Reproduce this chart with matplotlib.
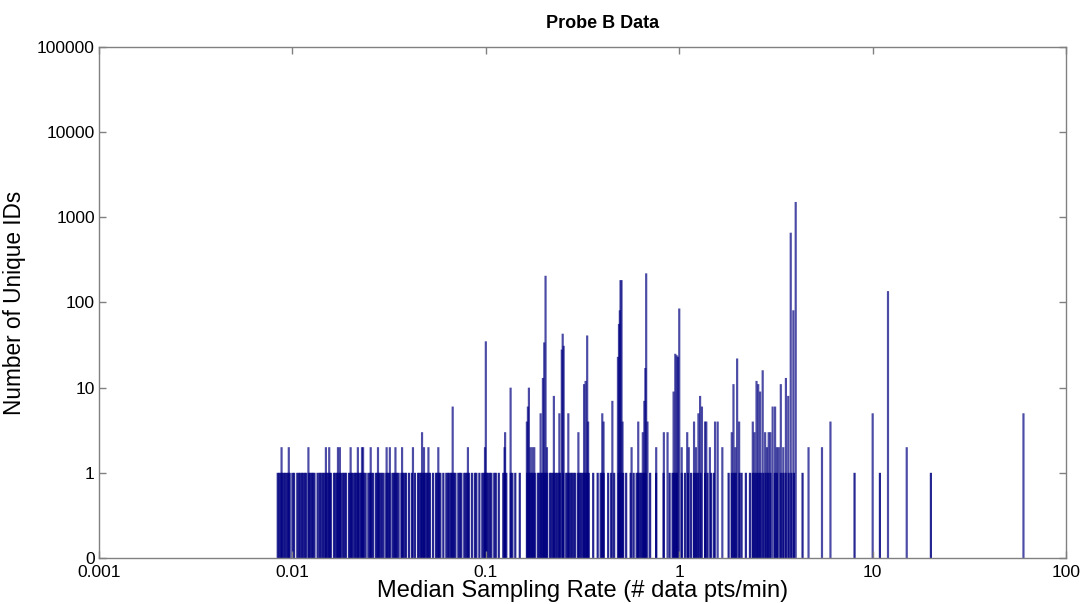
import matplotlib
matplotlib.use('Agg')
import matplotlib.pyplot as plt
import numpy as np

# rates (data pts/min) that hold a single unique ID
single_rates = [
    0.00840, 0.00855, 0.00870, 0.00886, 0.00902, 0.00918, 0.00934, 0.00951, 0.00968,
    0.0100, 0.0102, 0.0106, 0.0108, 0.0110, 0.0112, 0.0114, 0.0116, 0.0118,
    0.0122, 0.0124, 0.0126, 0.0128, 0.0130, 0.0135, 0.0138, 0.0140, 0.0143,
    0.0145, 0.0148, 0.0150, 0.0153, 0.0156, 0.0158, 0.0164, 0.0167, 0.0170,
    0.0173, 0.0176, 0.0179, 0.0183, 0.0186, 0.0189, 0.0196, 0.0200, 0.0203,
    0.0207, 0.0211, 0.0214, 0.0218, 0.0222, 0.0226, 0.0230, 0.0234, 0.0239,
    0.0247, 0.0252, 0.0256, 0.0261, 0.0270, 0.0275, 0.0280, 0.0285, 0.0290,
    0.0296, 0.0306, 0.0312, 0.0318, 0.0329, 0.0335, 0.0341, 0.0347, 0.0354,
    0.0366, 0.0373, 0.0380, 0.0387, 0.0401, 0.0415, 0.0430, 0.0446, 0.0454,
    0.0462, 0.0470, 0.0479, 0.0487, 0.0496, 0.0505, 0.0514, 0.0533, 0.0552,
    0.0562, 0.0572, 0.0582, 0.0603, 0.0625, 0.0637, 0.0648, 0.0660, 0.0671,
    0.0684, 0.0696, 0.0721, 0.0734, 0.0747, 0.0774, 0.0788, 0.0803, 0.0817,
    0.0847, 0.0877, 0.0893, 0.0926, 0.0959, 0.0977, 0.0994,
    0.1012, 0.1030, 0.1049, 0.1068, 0.1106, 0.1126, 0.1167, 0.1231, 0.1254,
    0.1276, 0.1346, 0.1371, 0.1420, 0.1498, 0.1638, 0.1668, 0.1698, 0.1728,
    0.1759, 0.1791, 0.1856, 0.1889, 0.1923, 0.1958, 0.1993, 0.2029, 0.2066,
    0.2141, 0.2179, 0.2218, 0.2258, 0.2299, 0.2340, 0.2382, 0.2425, 0.2513,
    0.2604, 0.2651, 0.2699, 0.2748, 0.2797, 0.2847, 0.2899, 0.3004, 0.3058,
    0.3113, 0.3169, 0.3226, 0.3284, 0.3343, 0.3403, 0.3590, 0.3787, 0.3925,
    0.3995, 0.4067, 0.4291, 0.4447, 0.4608, 0.4861, 0.4949, 0.5038, 0.5129,
    0.5315, 0.5607, 0.5811, 0.6022, 0.6130, 0.6240, 0.6353, 0.6467, 0.6583,
    0.6702, 0.7070, 0.7593, 0.8301, 0.8916, 0.9239, 0.9406, 0.9575, 0.9747,
    1.03, 1.07, 1.11, 1.15, 1.19, 1.22, 1.25, 1.29, 1.36, 1.40, 1.46, 1.51,
    1.80, 1.87, 1.92, 1.96, 2.05, 2.10, 2.21, 2.32, 2.40, 2.46, 2.52, 2.58,
    2.64, 2.72, 2.80, 2.88, 2.96, 3.12, 3.20, 3.35, 3.45, 3.55, 3.68, 3.80,
    3.92, 4.34, 8.06, 10.9, 20.0,
]

# rates with more than one unique ID
multi_rates = [
    0.00879, 0.00958, 0.0121, 0.0149, 0.0155, 0.0172, 0.0176, 0.0200, 0.0218,
    0.0229, 0.0232, 0.0254, 0.0277, 0.0307, 0.0319, 0.0341, 0.0369, 0.0420,
    0.0468, 0.0479, 0.0505, 0.0568, 0.0674, 0.0808, 0.0990, 0.1000,
    0.1250, 0.1258, 0.1343, 0.1630, 0.1650, 0.1670, 0.1700, 0.1740, 0.1780,
    0.1920, 0.1973, 0.2005, 0.2036, 0.2070, 0.2248, 0.2400, 0.2470, 0.2497,
    0.2525, 0.2670, 0.3010, 0.3220, 0.3280, 0.3342, 0.3380, 0.4000, 0.4060,
    0.4510, 0.4820, 0.4880, 0.4930, 0.4970, 0.5030, 0.5090, 0.5670, 0.6137,
    0.6480, 0.6600, 0.6680, 0.6746, 0.6850, 0.7600, 0.8325, 0.8700, 0.9348,
    0.9540, 0.9700, 0.9850, 1.0000, 1.0296, 1.0994, 1.1200, 1.1926, 1.2200,
    1.2565, 1.2817, 1.3100, 1.3595, 1.3800, 1.4400, 1.5315, 1.5800, 1.6700,
    1.8686, 1.9071, 1.9500, 1.9919, 2.0400, 2.4000, 2.4500, 2.5090, 2.5600,
    2.6200, 2.7000, 2.7800, 2.8400, 2.9000, 2.9600, 3.0400, 3.1300, 3.2000,
    3.2700, 3.3500, 3.4500, 3.5600, 3.6600, 3.7700, 3.8900, 4.0000, 4.6600,
    5.4700, 6.0500, 10.0, 12.0, 15.0, 60.2,
]
multi_counts = [
    2, 2, 2, 2, 2, 2, 2, 2, 2,
    2, 2, 2, 2, 2, 2, 2, 2, 2,
    3, 2, 2, 2, 6, 2, 2, 35,
    2, 3, 10, 4, 6, 10, 2, 2, 2,
    5, 13, 34, 206, 2, 8, 5, 28, 43,
    31, 5, 3, 11, 12, 41, 4, 5, 4,
    7, 23, 56, 81, 183, 183, 4, 2, 4,
    3, 7, 17, 220, 4, 2, 3, 3, 9,
    25, 24, 23, 85, 2, 3, 2, 4, 2,
    5, 8, 6, 4, 4, 2, 4, 4, 2,
    3, 11, 2, 22, 4, 4, 3, 12, 11,
    9, 16, 3, 2, 3, 3, 6, 6, 2,
    2, 11, 2, 13, 8, 660, 81, 1515, 2,
    2, 4, 5, 136, 2, 5,
]

xticks = [0.001, 0.01, 0.1, 1, 10, 100]
xticklabels = ['0.001', '0.01', '0.1', '1', '10', '100']
yticks = [0.1, 1, 10, 100, 1000, 10000, 100000]
yticklabels = ['0', '1', '10', '100', '1000', '10000', '100000']

plt.rcParams['font.family'] = ['Liberation Sans', 'DejaVu Sans']
navy = '#000080'
floor = 0.1   # bottom of the log axis, labelled "0"
binw = 0.026  # bar width as a fraction of the rate (constant on log axis)

fig = plt.figure(figsize=(10.83, 6.04), dpi=100)
ax = fig.add_axes([0.0914, 0.0762, 0.893, 0.846])

sr = np.array(single_rates)
mr = np.array(multi_rates)
mc = np.array(multi_counts, dtype=float)
b1 = ax.bar(sr, 1 - floor, width=sr * binw, bottom=floor, color=navy, alpha=0.85, lw=0)
b2 = ax.bar(mr, mc - floor, width=mr * binw, bottom=floor, color=navy, alpha=0.7, lw=0)
for p in list(b1) + list(b2):
    p.set_snap(False)

ax.set_xscale('log')
ax.set_yscale('log')
ax.set_xlim(0.001, 100)
ax.set_ylim(floor, 100000)
ax.set_xticks(xticks)
ax.set_xticklabels(xticklabels)
ax.set_yticks(yticks)
ax.set_yticklabels(yticklabels)
ax.minorticks_off()
ax.tick_params(direction='in', length=5, width=1, color='#808080',
               labelsize=12.5, top=True, right=True, pad=3)
ax.tick_params(axis='x', pad=5)
for s in ax.spines.values():
    s.set_color('#808080')
    s.set_linewidth(1)

ax.set_title('Probe B Data', fontsize=13, fontweight='bold', pad=14, x=0.521)
ax.set_xlabel('Median Sampling Rate (# data pts/min)', fontsize=17, labelpad=0)
ax.set_ylabel('Number of Unique IDs', fontsize=16.3, labelpad=8)

fig.savefig('out.png', dpi=100)
